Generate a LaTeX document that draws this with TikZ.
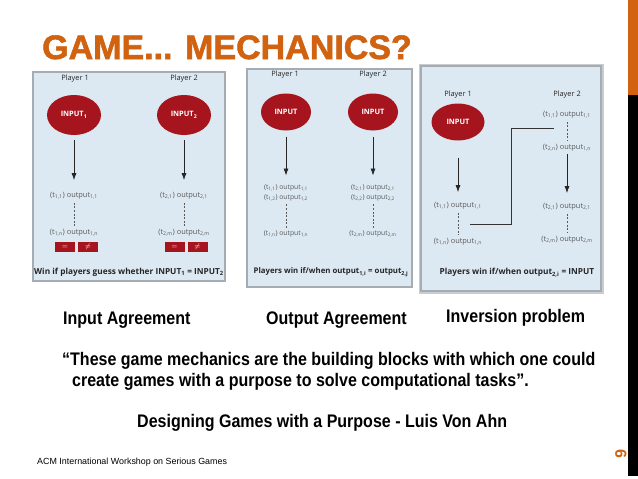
\documentclass[tikz,border=0pt]{standalone}
\usepackage{fontspec}
\setmainfont{Liberation Sans}
\newfontfamily\panelfont{Open Sans}
\newfontfamily\narrowfont[FakeStretch=0.88]{Liberation Sans}
\newfontfamily\titlefont[BoldFeatures={FakeBold=1.6}]{Liberation Sans}
\usetikzlibrary{shapes.geometric,arrows.meta}
\definecolor{slideOrange}{RGB}{208,98,16}
\definecolor{panelBlue}{RGB}{221,233,242}
\definecolor{panelEdge}{RGB}{165,172,178}
\definecolor{inputRed}{RGB}{166,20,30}
\definecolor{outGrey}{RGB}{90,90,90}
\newcommand{\outp}[2]{(t\textsubscript{#1}) output\textsubscript{#2}}
\tikzstyle{inputStyle}=[shape = ellipse, fill = inputRed, minimum width = 54pt, minimum height = 40pt, inner sep = 0pt, text = white, font = \panelfont\bfseries\fontsize{7.4}{8}\selectfont]
\tikzstyle{playerStyle}=[inner sep = 0pt, text = black!85, font = \panelfont\fontsize{7.4}{8}\selectfont]
\tikzstyle{outStyle}=[inner sep = 1pt, text = outGrey, font = \panelfont\fontsize{7.4}{8}\selectfont]
\tikzstyle{winStyle}=[inner sep = 0pt, text = black!85, font = \panelfont\bfseries\fontsize{8.3}{9}\selectfont]
\tikzstyle{guessStyle}=[shape = rectangle, fill = inputRed, minimum width = 20pt, minimum height = 10pt, inner sep = 0pt, text = white, font = \fontsize{7}{7}\selectfont]
\tikzstyle{captionStyle}=[inner sep = 0pt, anchor = base west, font = \narrowfont\bfseries\fontsize{18.2}{20}\selectfont]

\begin{document}
\begin{tikzpicture}[x = 1pt, y = -1pt]
\tikzstyle{flowArrow}=[draw = black!85, line width = 0.8pt, -{Latex[length = 7pt, width = 5pt]}]
\tikzstyle{dotStyle}=[draw = outGrey, line width = 0.8pt, dash pattern = on 2pt off 1.6pt, shorten < = 2pt, shorten > = 2pt]
\useasboundingbox (0,0) rectangle (638,479);
\fill[white] (0,0) rectangle (638,479);
% side bar
\fill[slideOrange] (628,0) rectangle (638,95);
\fill[black] (628,95) rectangle (638,476);
\node[inner sep = 0pt, anchor = base west, text = slideOrange, font = \titlefont\bfseries\fontsize{34}{34}\selectfont] (title) at (42,59) {GAME... MECHANICS?};
% input agreement
\draw[fill = panelBlue, draw = panelEdge, line width = 1.2pt] (33,72) rectangle (225,281);
\node[playerStyle] (p1a) at (75,79) {Player 1};
\node[playerStyle] (p1b) at (184,79) {Player 2};
\node[inputStyle] (in1a) at (74,115) {INPUT\textsubscript{1}};
\node[inputStyle] (in1b) at (184,115) {INPUT\textsubscript{2}};
\node[outStyle] (o1a) at (74,196) {\outp{1,1}{1,1}};
\node[outStyle] (o1b) at (74,233) {\outp{1,n}{1,n}};
\node[outStyle] (o1c) at (184,196) {\outp{2,1}{2,1}};
\node[outStyle] (o1d) at (184,233) {\outp{2,m}{2,m}};
\node[guessStyle] (g1a) at (65,247) {$=$};
\node[guessStyle] (g1b) at (88,247) {$\neq$};
\node[guessStyle] (g1c) at (174.5,247) {$=$};
\node[guessStyle] (g1d) at (197.5,247) {$\neq$};
\node[winStyle] (win1) at (129,272) {Win if players guess whether INPUT\textsubscript{1} = INPUT\textsubscript{2}};
\draw[flowArrow, shorten < = 5pt, shorten > = 11pt] (in1a) -- (o1a);
\draw[flowArrow, shorten < = 5pt, shorten > = 11pt] (in1b) -- (o1c);
\draw[dotStyle] (o1a) -- (o1b);
\draw[dotStyle] (o1c) -- (o1d);
% output agreement
\draw[fill = panelBlue, draw = panelEdge, line width = 2.2pt] (247,69) rectangle (412,287);
\node[playerStyle] (p2a) at (285,75) {Player 1};
\node[playerStyle] (p2b) at (373,75) {Player 2};
\node[inputStyle, minimum width = 50pt, minimum height = 37pt] (in2a) at (286,112) {INPUT};
\node[inputStyle, minimum width = 50pt, minimum height = 37pt] (in2b) at (373,112) {INPUT};
\node[outStyle, font = \panelfont\fontsize{6.8}{8}\selectfont] (o2a) at (286,188) {\outp{1,1}{1,1}};
\node[outStyle, font = \panelfont\fontsize{6.8}{8}\selectfont] (o2b) at (286,198) {\outp{1,2}{1,2}};
\node[outStyle, font = \panelfont\fontsize{6.8}{8}\selectfont] (o2c) at (286,234) {\outp{1,n}{1,n}};
\node[outStyle, font = \panelfont\fontsize{6.8}{8}\selectfont] (o2d) at (373,188) {\outp{2,1}{2,1}};
\node[outStyle, font = \panelfont\fontsize{6.8}{8}\selectfont] (o2e) at (373,198) {\outp{2,2}{2,2}};
\node[outStyle, font = \panelfont\fontsize{6.8}{8}\selectfont] (o2f) at (373,234) {\outp{2,m}{2,m}};
\node[winStyle, font = \panelfont\bfseries\fontsize{7.8}{9}\selectfont] (win2) at (331,272) {Players win if/when output\textsubscript{1,i} = output\textsubscript{2,j}};
\draw[flowArrow, shorten < = 6pt, shorten > = 8pt] (in2a) -- (o2a);
\draw[flowArrow, shorten < = 6pt, shorten > = 8pt] (in2b) -- (o2d);
\draw[dotStyle] (o2b) -- (o2c);
\draw[dotStyle] (o2e) -- (o2f);
% inversion problem
\draw[draw = panelEdge!60, line width = 5pt] (421,66) rectangle (601,291);
\draw[fill = panelBlue, draw = panelEdge, line width = 2.6pt] (421,66) rectangle (601,291);
\node[playerStyle] (p3a) at (458,95) {Player 1};
\node[playerStyle] (p3b) at (567,95) {Player 2};
\node[inputStyle, minimum width = 53pt, minimum height = 37pt] (in3a) at (458,122) {INPUT};
\node[outStyle] (o3a) at (567,115) {\outp{1,1}{1,1}};
\node[outStyle] (o3b) at (567,148) {\outp{2,n}{1,n}};
\node[outStyle] (o3c) at (567,207) {\outp{2,1}{2,1}};
\node[outStyle] (o3d) at (567,240) {\outp{2,m}{2,m}};
\node[outStyle] (o3e) at (458,206) {\outp{1,1}{1,1}};
\node[outStyle] (o3f) at (458,242) {\outp{1,n}{1,n}};
\node[winStyle] (win3) at (517,273) {Players win if/when output\textsubscript{2,i} = INPUT};
\coordinate (c3s) at (470,224);
\coordinate (c3m) at (511,128);
\coordinate (c3e) at (554,128);
\draw[flowArrow, shorten < = 17pt, shorten > = 9pt] (in3a) -- (o3e);
\draw[flowArrow, shorten < = 1pt, shorten > = 9pt] (o3b) -- (o3c);
\draw[dotStyle] (o3a) -- (o3b);
\draw[dotStyle] (o3c) -- (o3d);
\draw[dotStyle] (o3e) -- (o3f);
\draw[draw = black!80, line width = 0.9pt] (c3s) -| (c3m) -- (c3e);
% captions and quote
\node[captionStyle] (capIn) at (63,324) {Input Agreement};
\node[captionStyle] (capOut) at (266,324) {Output Agreement};
\node[captionStyle] (capInv) at (446,322) {Inversion problem};
\node[captionStyle] (quoteA) at (62,365) {“These game mechanics are the building blocks with which one could};
\node[captionStyle] (quoteB) at (72,386) {create games with a purpose to solve computational tasks”.};
\node[captionStyle] (source) at (137,427) {Designing Games with a Purpose - Luis Von Ahn};
\node[inner sep = 0pt, anchor = base west, font = \fontsize{8.9}{9}\selectfont] (footer) at (37,464) {ACM International Workshop on Serious Games};
\node[inner sep = 0pt, rotate = -90, text = slideOrange, font = \bfseries\fontsize{16}{16}\selectfont] (pageNo) at (621,454) {6};
\end{tikzpicture}
\end{document}
